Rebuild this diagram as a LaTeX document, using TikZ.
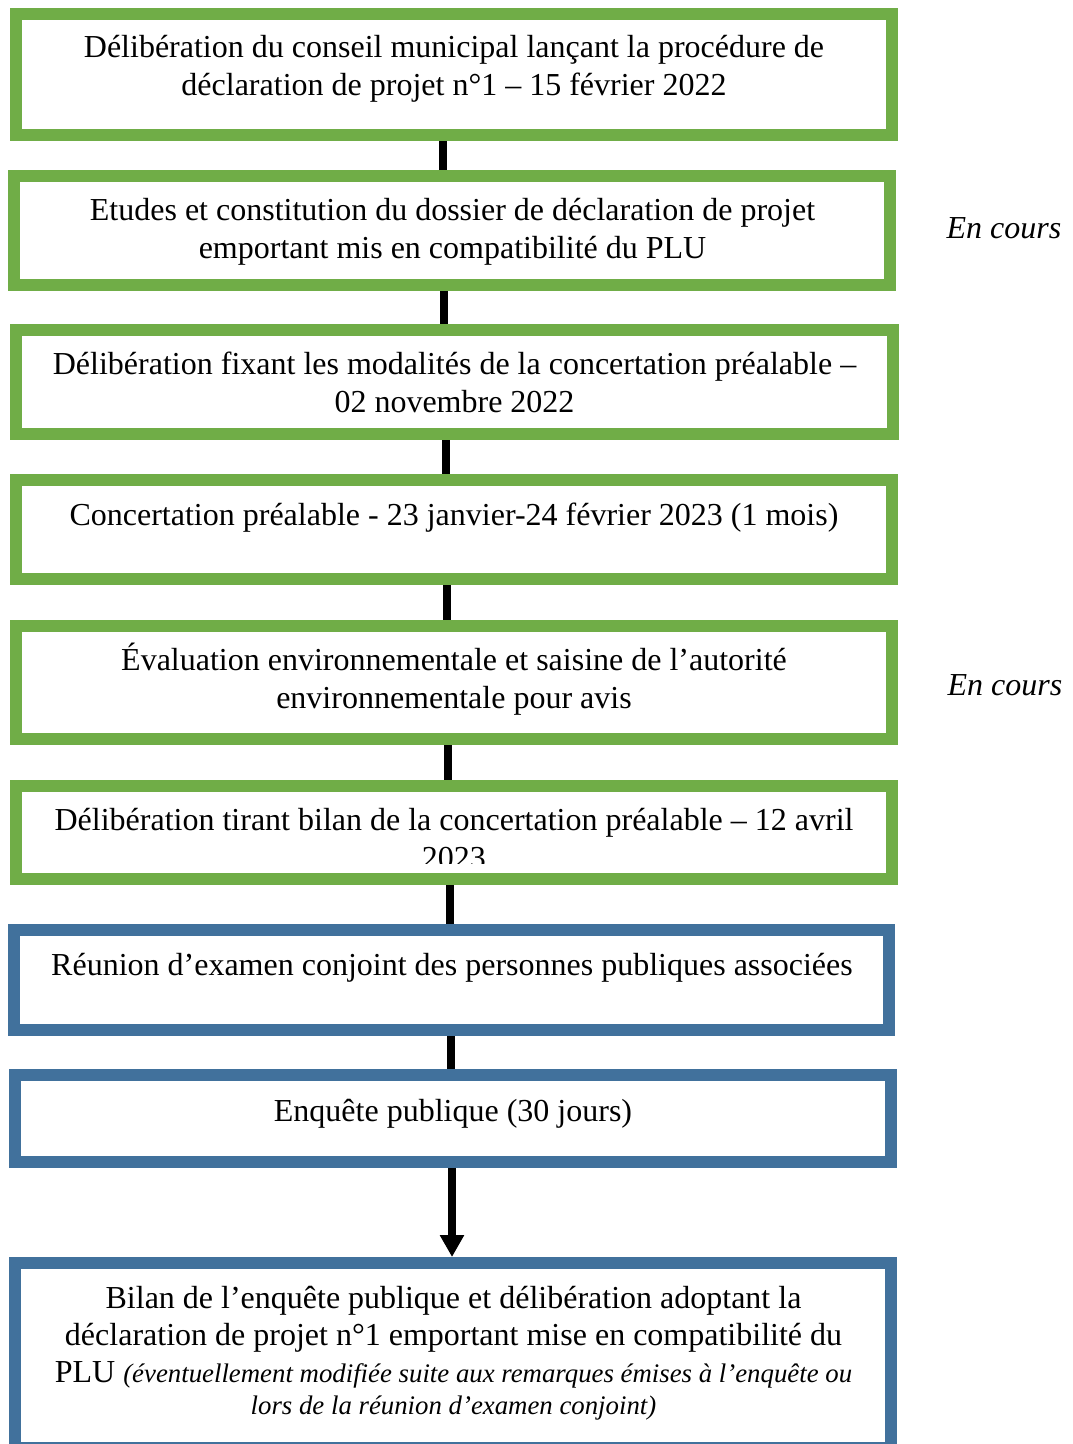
\documentclass[tikz,border=0pt]{standalone}
\usepackage{fontspec}
\setmainfont{Liberation Serif}
\usetikzlibrary{arrows.meta}
\definecolor{boxgreen}{HTML}{70AD47}
\definecolor{boxblue}{HTML}{41719C}
\begin{document}
\begin{tikzpicture}[x=1pt,y=-1pt,
  stepgreen/.style={rectangle, draw=boxgreen, line width=12pt, fill=white, inner sep=0pt},
  stepblue/.style={rectangle, draw=boxblue, line width=12pt, fill=white, inner sep=0pt},
  boxtext/.style={font=\fontsize{32}{38}\selectfont, align=center, anchor=base, inner sep=0pt},
  notetext/.style={font=\fontsize{32}{38}\selectfont\itshape, anchor=base, inner sep=0pt},
  link/.style={line width=8pt, draw=black},
  linkarrow/.style={link, -{Triangle[width=23pt,length=22pt]}}]
\useasboundingbox (0,0) rectangle (1072,1444);
\clip (0,0) rectangle (1072,1444);

% boxes
\node[stepgreen, minimum width=876pt, minimum height=121pt] (b1) at (454,74.5) {};
\node[stepgreen, minimum width=876pt, minimum height=109pt] (b2) at (452,230.5) {};
\node[stepgreen, minimum width=877pt, minimum height=104pt] (b3) at (454.5,382) {};
\node[stepgreen, minimum width=876pt, minimum height=99pt] (b4) at (454,529.5) {};
\node[stepgreen, minimum width=876pt, minimum height=113pt] (b5) at (454,682.5) {};
\node[stepgreen, minimum width=876pt, minimum height=93pt] (b6) at (454,832.5) {};
\node[stepblue, minimum width=875pt, minimum height=100pt] (b7) at (451.5,980) {};
\node[stepblue, minimum width=876pt, minimum height=87pt] (b8) at (453,1118.5) {};
\node[stepblue, minimum width=876pt, minimum height=185pt] (b9) at (453,1355.5) {};

% connectors
\draw[link] ([xshift=-11pt]b1.south) -- ([xshift=-9pt]b2.north);
\draw[link] ([xshift=-8pt]b2.south) -- ([xshift=-10.5pt]b3.north);
\draw[link] ([xshift=-8.5pt]b3.south) -- ([xshift=-8pt]b4.north);
\draw[link] ([xshift=-7pt]b4.south) -- ([xshift=-7pt]b5.north);
\draw[link] ([xshift=-6pt]b5.south) -- ([xshift=-6pt]b6.north);
\draw[link] ([xshift=-4pt]b6.south) -- ([xshift=-1.5pt]b7.north);
\draw[link] ([xshift=-0.5pt]b7.south) -- ([xshift=-2pt]b8.north);
\draw[linkarrow] ([xshift=-1pt]b8.south) -- ([xshift=-1pt]b9.north);

% texts (anchor = baseline of last line)
\node[boxtext] (t1) at (454,95) {Délibération du conseil municipal lançant la procédure de\\déclaration de projet n°1 – 15 février 2022};
\node[boxtext] (t2) at (452.5,258) {Etudes et constitution du dossier de déclaration de projet\\emportant mis en compatibilité du PLU};
\node[boxtext] (t3) at (454.5,412) {Délibération fixant les modalités de la concertation préalable –\\02 novembre 2022};
\node[boxtext] (t4) at (454,525) {Concertation préalable - 23 janvier-24 février 2023 (1 mois)};
\node[boxtext] (t5) at (454,708) {Évaluation environnementale et saisine de l’autorité\\environnementale pour avis};
\begin{scope}
\clip (10,780) rectangle (898,863);
\node[boxtext] (t6) at (454,868) {Délibération tirant bilan de la concertation préalable – 12 avril\\2023};
\end{scope}
\node[boxtext] (t7) at (452,975) {Réunion d’examen conjoint des personnes publiques associées};
\node[boxtext] (t8) at (453,1121) {Enquête publique (30 jours)};
\node[boxtext, font=\fontsize{32}{37}\selectfont] (t9) at (453.5,1414) {Bilan de l’enquête publique et délibération adoptant la\\déclaration de projet n°1 emportant mise en compatibilité du\\PLU {\itshape\fontsize{26.8}{30}\selectfont (éventuellement modifiée suite aux remarques émises à l’enquête ou}\\[-5pt]{\itshape\fontsize{26.8}{30}\selectfont lors de la réunion d’examen conjoint)}};

\node[notetext] (n1) at (1004,238) {En cours};
\node[notetext] (n2) at (1005,695) {En cours};
\end{tikzpicture}
\end{document}
